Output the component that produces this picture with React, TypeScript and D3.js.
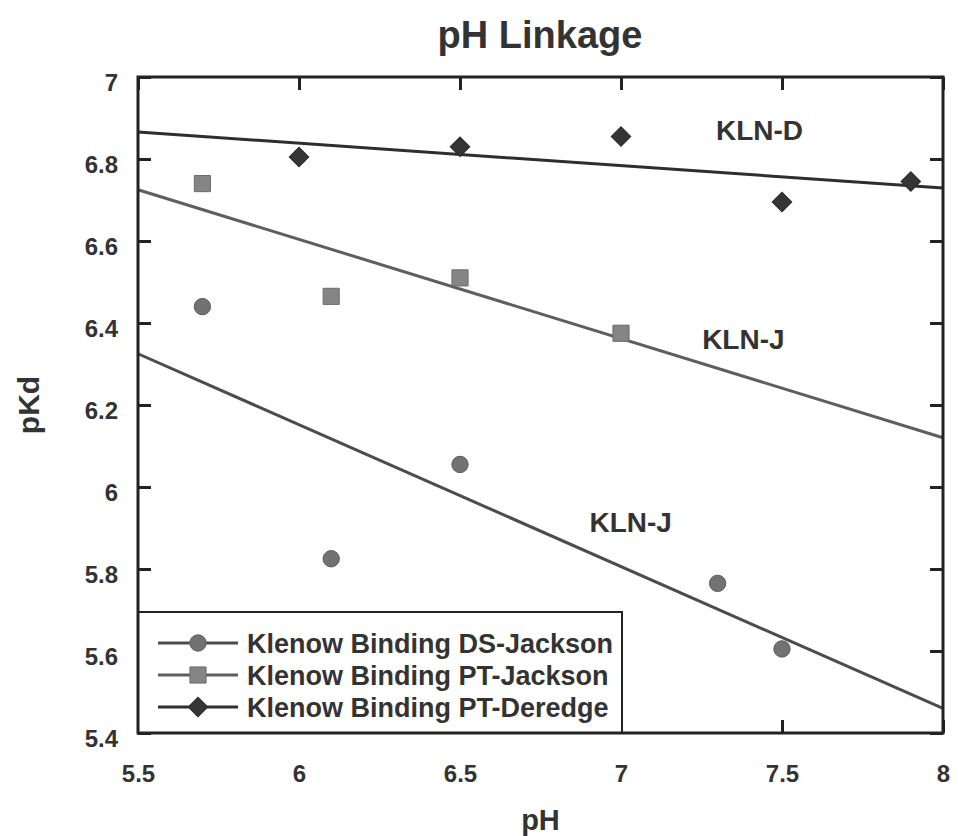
import React, { useRef, useEffect } from "react";
import * as d3 from "d3";

const phDS = [5.7, 6.1, 6.5, 7.3, 7.5];
const pkdDS = [6.44, 5.825, 6.055, 5.765, 5.605];
const phPTJ = [5.7, 6.1, 6.5, 7.0];
const pkdPTJ = [6.74, 6.465, 6.51, 6.375];
const phPTD = [6.0, 6.5, 7.0, 7.5, 7.9];
const pkdPTD = [6.805, 6.83, 6.855, 6.695, 6.745];

// fitted lines (endpoints at the x-range limits)
const fitPH = [5.5, 8];
const fitDS = [6.325, 5.46];
const fitPTJ = [6.725, 6.12];
const fitPTD = [6.866, 6.729];

const xTicks = [5.5, 6, 6.5, 7, 7.5, 8];
const yTicks = [5.4, 5.6, 5.8, 6, 6.2, 6.4, 6.6, 6.8, 7];

const labelText = ["KLN-D", "KLN-J", "KLN-J"];
const labelPH = [7.43, 7.38, 7.03];
const labelPKd = [6.87, 6.36, 5.915];

const legendNames = [
  "Klenow Binding DS-Jackson",
  "Klenow Binding PT-Jackson",
  "Klenow Binding PT-Deredge",
];

const FONT = "'Liberation Sans', Arial, sans-serif";
const TXT = "#333";

export default function App() {
  const svgRef = useRef<SVGSVGElement>(null);

  useEffect(() => {
    const W = 958, H = 836;
    const m = { left: 138, right: 15, top: 77, bottom: 103 };
    const svg = d3.select(svgRef.current);
    svg.selectAll("*").remove();

    const x = d3.scaleLinear().domain([5.5, 8]).range([m.left, W - m.right]);
    const y = d3.scaleLinear().domain([5.4, 7]).range([H - m.bottom, m.top]);
    const fmt = (d: any) => String(+(+d).toFixed(1));

    // title
    svg.append("text")
      .attr("x", 540).attr("y", 48)
      .attr("text-anchor", "middle")
      .attr("font-family", FONT).attr("font-weight", "bold")
      .attr("font-size", 38).attr("fill", TXT)
      .text("pH Linkage");

    // axes with inward ticks
    const tickStyle = (g: any) => {
      g.select(".domain").remove();
      g.selectAll(".tick line").attr("stroke", "#222").attr("stroke-width", 3);
      g.selectAll(".tick text")
        .attr("font-family", FONT).attr("font-weight", "bold")
        .attr("font-size", 24).attr("fill", TXT);
    };
    svg.append("g")
      .attr("transform", `translate(0,${H - m.bottom})`)
      .call(d3.axisBottom(x).tickValues(xTicks).tickFormat(fmt).tickSizeInner(-13).tickSizeOuter(0).tickPadding(32))
      .call(tickStyle);
    svg.append("g")
      .attr("transform", `translate(0,${m.top})`)
      .call(d3.axisTop(x).tickValues(xTicks).tickFormat(() => "").tickSizeInner(-13).tickSizeOuter(0))
      .call(tickStyle);
    svg.append("g")
      .attr("transform", `translate(${m.left},0)`)
      .call(d3.axisLeft(y).tickValues(yTicks).tickFormat(fmt).tickSizeInner(-13).tickSizeOuter(0).tickPadding(20))
      .call(tickStyle)
      .selectAll(".tick text").attr("dy", "0.55em");
    svg.append("g")
      .attr("transform", `translate(${W - m.right},0)`)
      .call(d3.axisRight(y).tickValues(yTicks).tickFormat(() => "").tickSizeInner(-13).tickSizeOuter(0))
      .call(tickStyle);

    // axis titles
    svg.append("text")
      .attr("x", x(6.75)).attr("y", 830)
      .attr("text-anchor", "middle")
      .attr("font-family", FONT).attr("font-weight", "bold")
      .attr("font-size", 29).attr("fill", TXT)
      .text("pH");
    svg.append("text")
      .attr("transform", `translate(39,${y(6.2)}) rotate(-90)`)
      .attr("text-anchor", "middle")
      .attr("font-family", FONT).attr("font-weight", "bold")
      .attr("font-size", 30).attr("fill", TXT)
      .text("pKd");

    // fit lines
    const line = d3.line<number>().x((d, i) => x(fitPH[i])).y((d) => y(d));
    const fits = [
      { v: fitPTD, c: "#2e2e2e" },
      { v: fitPTJ, c: "#5e5e5e" },
      { v: fitDS, c: "#4c4c4c" },
    ];
    fits.forEach((f) => {
      svg.append("path").attr("d", line(f.v)).attr("fill", "none")
        .attr("stroke", f.c).attr("stroke-width", 3);
    });

    // markers (diamond = square rotated 45deg)
    const sym = [
      { t: d3.symbolCircle, size: 210, rot: 0, fill: "#727272", stroke: "#5a5a5a" },
      { t: d3.symbolSquare, size: 260, rot: 0, fill: "#858585", stroke: "#6a6a6a" },
      { t: d3.symbolSquare, size: 190, rot: 45, fill: "#353535", stroke: "#2a2a2a" },
    ];
    const series = [
      { xs: phDS, ys: pkdDS },
      { xs: phPTJ, ys: pkdPTJ },
      { xs: phPTD, ys: pkdPTD },
    ];
    series.forEach((s, k) => {
      const p = d3.symbol().type(sym[k].t).size(sym[k].size)();
      svg.append("g").selectAll("path")
        .data(s.xs)
        .join("path")
        .attr("d", p)
        .attr("transform", (d, i) => `translate(${x(d)},${y(s.ys[i])}) rotate(${sym[k].rot})`)
        .attr("fill", sym[k].fill)
        .attr("stroke", sym[k].stroke).attr("stroke-width", 1);
    });

    // line labels
    labelText.forEach((t, i) => {
      svg.append("text")
        .attr("x", x(labelPH[i])).attr("y", y(labelPKd[i]))
        .attr("dy", "0.36em")
        .attr("text-anchor", "middle")
        .attr("font-family", FONT).attr("font-weight", "bold")
        .attr("font-size", 28).attr("fill", TXT)
        .text(t);
    });

    // legend
    const lg = svg.append("g");
    lg.append("rect")
      .attr("x", x(5.5)).attr("y", 612)
      .attr("width", 484).attr("height", y(5.4) - 612)
      .attr("fill", "#fff").attr("stroke", "#222").attr("stroke-width", 2);
    legendNames.forEach((name, k) => {
      const cy = 643 + k * 32;
      lg.append("line").attr("x1", 158).attr("x2", 238).attr("y1", cy).attr("y2", cy)
        .attr("stroke", fits[2 - k].c).attr("stroke-width", 3);
      lg.append("path")
        .attr("d", d3.symbol().type(sym[k].t).size(sym[k].size)())
        .attr("transform", `translate(198,${cy}) rotate(${sym[k].rot})`)
        .attr("fill", sym[k].fill).attr("stroke", sym[k].stroke);
      lg.append("text")
        .attr("x", 247).attr("y", cy).attr("dy", "0.36em")
        .attr("font-family", FONT).attr("font-weight", "bold")
        .attr("font-size", 27).attr("fill", TXT)
        .text(name);
    });

    // frame on top
    svg.append("rect")
      .attr("x", x(5.5)).attr("y", y(7))
      .attr("width", x(8) - x(5.5)).attr("height", y(5.4) - y(7))
      .attr("fill", "none").attr("stroke", "#222").attr("stroke-width", 3);
  }, []);

  return (
    <svg ref={svgRef} width={958} height={836}
      style={{ position: "absolute", left: 0, top: 0, background: "#fff" }} />
  );
}
